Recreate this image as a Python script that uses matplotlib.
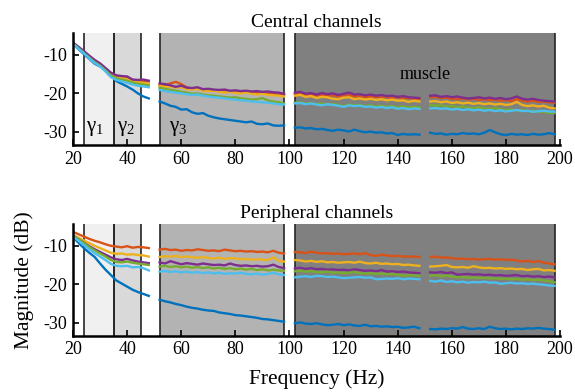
"""Central vs peripheral channel spectra with frequency band shading."""
import matplotlib
matplotlib.use('Agg')
import matplotlib.pyplot as plt
import numpy as np

plt.rcParams['font.family'] = ['Liberation Serif', 'DejaVu Serif']
plt.rcParams['axes.unicode_minus'] = False
plt.rcParams['mathtext.fontset'] = 'custom'
plt.rcParams['mathtext.rm'] = 'Liberation Serif'

# frequency grid, split where line noise harmonics were removed (50, 100, 150 Hz)
seg_freqs = [np.arange(20, 49, 2), np.arange(52, 99, 2),
             np.arange(102, 149, 2), np.arange(152, 199, 2)]

# band edges (Hz)
bands = [(24, 35, '0.94'), (35, 45, '0.85'), (52, 98, '0.70'), (102, 198, '0.50')]
band_labels = [(28, r'$\mathregular{γ_1}$'), (39.5, r'$\mathregular{γ_2}$'), (59, r'$\mathregular{γ_3}$')]

series_names = ['ch1', 'ch2', 'ch3', 'ch4', 'ch5', 'ch6']
colors = ['#0072BD', '#D95319', '#EDB120', '#7E2F8E', '#77AC30', '#4DBEEE']

# ---- central channels (dB) ----
central_ch1 = [-7.2, -8.5, -9.8, -11.0, -12.3, -13.0, -13.8, -15.3, -16.8, -17.5, -18.2, -19.0, -20.0, -20.8, -21.3,
               -22.1, -22.6, -23.2, -23.5, -24.2, -24.1, -24.9, -25.3, -25.1, -25.8, -26.2, -26.5, -26.7, -26.9, -27.1, -27.3, -27.5, -27.3, -27.9, -28.0, -27.8, -28.3, -28.4, -28.3,
               -28.9, -28.8, -29.1, -29.0, -29.3, -29.2, -29.5, -29.7, -29.4, -29.6, -29.9, -29.4, -29.8, -30.1, -29.9, -30.2, -30.1, -30.4, -30.3, -30.8, -30.5, -30.7, -30.6, -30.7,
               -30.2, -30.5, -30.4, -30.7, -30.5, -30.6, -30.3, -30.5, -30.4, -30.6, -30.2, -29.5, -30.1, -30.6, -30.8, -30.5, -30.7, -30.6, -30.8, -30.5, -30.7, -30.6, -30.3, -30.6]
central_ch2 = [-7.0, -8.1, -9.3, -10.5, -11.6, -12.5, -13.6, -14.9, -15.6, -15.7, -15.9, -16.5, -16.8, -16.9, -16.9,
               -17.8, -17.9, -17.4, -17.0, -17.6, -18.4, -18.8, -18.6, -19.0, -19.1, -19.2, -19.4, -19.2, -19.5, -19.6, -19.5, -19.8, -19.6, -19.9, -19.8, -20.0, -20.1, -20.3, -20.4,
               -20.1, -20.0, -20.4, -20.3, -20.6, -20.4, -20.7, -20.5, -20.8, -20.6, -20.5, -20.8, -20.7, -21.0, -20.8, -20.9, -21.1, -20.9, -21.2, -21.0, -21.3, -21.2, -21.4, -21.4,
               -21.0, -20.9, -21.2, -21.1, -21.4, -21.5, -21.3, -21.6, -21.4, -21.7, -21.5, -21.8, -21.6, -21.9, -21.7, -22.0, -21.5, -21.9, -22.1, -21.9, -22.2, -22.1, -22.3, -22.4]
central_ch3 = [-7.0, -8.2, -9.4, -10.6, -11.8, -12.7, -13.8, -15.1, -15.8, -16.0, -16.3, -16.9, -17.1, -17.3, -17.5,
               -18.1, -18.3, -18.2, -18.5, -18.4, -18.9, -19.0, -18.8, -19.3, -19.4, -19.3, -19.6, -19.8, -19.6, -19.9, -20.0, -19.8, -20.1, -20.3, -20.1, -20.4, -20.5, -20.6, -20.8,
               -20.6, -20.4, -20.9, -20.7, -21.2, -20.9, -21.0, -21.4, -21.5, -21.1, -21.0, -21.5, -21.3, -21.6, -21.4, -21.7, -21.5, -21.8, -21.6, -21.9, -21.8, -22.2, -21.9, -22.1,
               -22.1, -22.0, -22.3, -22.1, -22.5, -22.3, -22.6, -22.4, -22.7, -22.5, -22.8, -22.6, -22.9, -22.7, -23.0, -22.8, -22.2, -23.0, -23.3, -23.1, -23.4, -23.2, -23.7, -23.9]
central_ch4 = [-6.8, -7.9, -9.0, -10.2, -11.3, -12.2, -13.4, -14.6, -15.3, -15.5, -15.6, -16.4, -16.5, -16.4, -16.7,
               -17.4, -17.6, -17.9, -18.3, -18.0, -18.5, -18.6, -18.4, -18.9, -18.8, -19.0, -19.1, -19.0, -19.3, -19.2, -19.4, -19.3, -19.5, -19.4, -19.6, -19.5, -19.7, -19.8, -20.1,
               -19.8, -19.6, -20.1, -19.9, -20.3, -19.9, -20.2, -20.0, -20.4, -20.1, -19.8, -20.3, -20.2, -20.5, -20.3, -20.6, -20.4, -20.7, -20.6, -20.9, -20.7, -21.0, -21.1, -21.2,
               -20.6, -20.5, -20.9, -20.7, -21.0, -20.8, -21.1, -21.3, -21.2, -21.0, -21.3, -21.1, -21.4, -21.2, -21.5, -21.3, -20.8, -21.4, -21.6, -21.4, -21.7, -21.9, -22.0, -22.1]
central_ch5 = [-7.1, -8.3, -9.5, -10.7, -11.9, -12.8, -14.0, -15.4, -16.1, -16.4, -16.7, -17.2, -17.5, -17.7, -17.9,
               -18.5, -18.8, -19.1, -19.3, -19.6, -19.8, -20.1, -20.0, -20.3, -20.5, -20.6, -20.8, -20.9, -21.1, -21.0, -21.3, -21.4, -21.6, -21.5, -21.2, -21.8, -22.1, -22.3, -22.6,
               -22.4, -22.3, -22.6, -22.5, -22.8, -22.6, -22.9, -22.7, -23.0, -23.3, -22.9, -23.1, -23.0, -23.3, -23.1, -23.4, -23.2, -23.5, -23.3, -23.6, -23.4, -23.6, -23.5, -23.6,
               -23.0, -23.2, -23.1, -23.4, -23.3, -23.6, -23.4, -23.7, -23.8, -23.6, -23.9, -24.0, -23.8, -24.1, -24.3, -24.2, -24.4, -24.3, -24.6, -24.5, -24.7, -24.8, -25.0, -25.1]
central_ch6 = [-7.1, -8.4, -9.6, -10.9, -12.1, -13.0, -14.3, -15.8, -16.5, -16.9, -17.3, -17.7, -18.0, -18.2, -18.4,
               -19.1, -19.4, -19.6, -19.8, -20.0, -20.2, -20.4, -20.3, -20.6, -20.8, -21.0, -21.1, -21.3, -21.5, -21.6, -21.8, -21.9, -22.1, -22.2, -22.3, -22.4, -22.6, -22.8, -22.9,
               -22.6, -22.5, -22.8, -22.6, -22.9, -23.1, -22.8, -23.0, -23.2, -23.5, -23.1, -23.3, -23.2, -23.5, -23.4, -23.7, -23.5, -23.8, -23.6, -24.0, -23.8, -24.1, -23.9, -24.0,
               -23.9, -23.8, -24.0, -23.9, -24.2, -24.0, -24.3, -24.1, -24.4, -24.2, -24.5, -24.3, -24.6, -24.4, -24.7, -24.5, -24.3, -24.6, -24.5, -24.8, -24.6, -24.5, -24.7, -24.7]

# ---- peripheral channels (dB) ----
periph_ch1 = [-7.8, -9.2, -10.6, -11.8, -12.9, -14.6, -16.2, -17.6, -19.0, -19.8, -20.6, -21.4, -22.0, -22.5, -23.0,
              -24.0, -24.4, -24.7, -25.1, -25.4, -25.8, -26.1, -26.3, -26.6, -26.8, -26.9, -27.3, -27.5, -27.7, -28.0, -28.1, -28.3, -28.5, -28.7, -29.0, -29.1, -29.3, -29.5, -29.7,
              -30.1, -29.9, -30.2, -30.3, -30.1, -30.4, -30.6, -30.5, -30.3, -30.6, -30.4, -30.7, -30.8, -30.5, -30.9, -30.8, -31.0, -30.9, -31.1, -31.0, -31.3, -31.2, -31.0, -31.4,
              -31.6, -31.7, -31.5, -31.6, -31.4, -31.5, -31.1, -31.5, -31.6, -31.4, -31.6, -31.0, -31.4, -31.6, -31.5, -31.7, -31.5, -31.6, -31.4, -31.5, -31.3, -31.5, -31.6, -31.8]
periph_ch2 = [-6.4, -7.0, -7.6, -8.2, -8.7, -9.1, -9.6, -10.0, -10.2, -10.4, -10.1, -10.5, -10.3, -10.4, -10.6,
              -11.0, -10.8, -11.1, -11.0, -11.3, -11.1, -11.2, -10.9, -11.1, -11.3, -11.2, -11.4, -11.0, -11.2, -11.4, -11.3, -11.5, -11.4, -11.6, -11.5, -11.7, -11.3, -11.8, -12.0,
              -11.6, -11.7, -11.9, -11.5, -11.8, -12.0, -11.9, -12.1, -12.0, -12.2, -12.1, -12.0, -12.2, -11.9, -12.4, -12.6, -12.3, -12.5, -12.7, -12.6, -12.8, -12.8, -12.8, -12.9,
              -12.9, -12.8, -13.1, -13.0, -13.2, -13.4, -13.3, -13.5, -13.4, -13.6, -13.5, -13.4, -13.6, -13.5, -13.7, -13.6, -13.8, -14.1, -13.9, -14.2, -14.0, -14.4, -14.6, -14.8]
periph_ch3 = [-7.2, -7.9, -8.6, -9.3, -10.0, -10.6, -11.2, -11.8, -12.1, -12.0, -12.3, -12.2, -12.4, -12.5, -12.8,
              -12.9, -12.7, -12.8, -12.6, -12.9, -12.8, -13.0, -13.1, -12.9, -13.2, -13.3, -13.1, -13.4, -13.2, -13.3, -13.5, -13.4, -13.6, -13.5, -13.6, -13.7, -13.0, -13.9, -14.1,
              -13.7, -13.8, -14.1, -13.9, -14.2, -14.0, -14.3, -14.2, -14.4, -14.3, -14.2, -14.4, -14.1, -14.5, -14.6, -14.4, -14.7, -14.6, -14.8, -14.7, -15.0, -14.9, -15.1, -15.2,
              -15.4, -15.3, -15.2, -15.0, -15.5, -15.6, -15.5, -15.7, -15.3, -15.6, -15.8, -15.7, -15.9, -15.8, -16.0, -15.9, -16.1, -16.0, -16.3, -16.1, -16.0, -16.4, -16.3, -16.5]
periph_ch4 = [-7.4, -8.3, -9.2, -10.1, -10.9, -11.6, -12.3, -13.0, -13.5, -13.7, -13.4, -13.8, -14.1, -14.3, -14.5,
              -14.3, -14.6, -14.0, -14.4, -14.8, -14.5, -14.7, -14.9, -14.6, -14.8, -15.0, -14.9, -15.1, -14.6, -15.0, -15.2, -15.1, -15.3, -15.2, -15.4, -15.3, -14.9, -15.5, -15.8,
              -15.9, -15.7, -16.0, -15.8, -16.1, -16.0, -16.2, -16.1, -16.3, -16.2, -16.4, -16.1, -16.3, -16.5, -16.4, -16.6, -16.3, -16.7, -16.6, -16.8, -16.7, -16.9, -17.0, -17.1,
              -16.9, -17.0, -16.8, -17.1, -16.9, -17.5, -17.4, -17.3, -17.5, -17.4, -17.6, -17.5, -17.7, -17.6, -17.8, -17.7, -17.6, -17.9, -17.8, -18.0, -17.9, -18.1, -18.0, -18.2]
periph_ch5 = [-7.3, -8.3, -9.3, -10.3, -11.2, -12.0, -12.8, -13.7, -14.2, -14.3, -14.1, -14.4, -14.6, -14.8, -15.0,
              -15.4, -15.2, -15.5, -15.3, -15.6, -15.4, -15.7, -15.5, -15.8, -15.6, -15.9, -15.7, -16.0, -15.8, -16.1, -15.9, -16.2, -16.0, -16.3, -16.1, -16.4, -16.2, -16.4, -16.5,
              -16.6, -16.5, -16.7, -16.6, -16.8, -16.9, -16.7, -17.0, -16.9, -17.1, -17.0, -16.8, -17.1, -17.2, -17.1, -17.3, -17.2, -17.4, -17.3, -17.5, -17.8, -17.6, -17.7, -17.8,
              -17.8, -17.6, -17.9, -17.7, -18.0, -18.2, -18.1, -18.3, -18.2, -18.4, -18.3, -18.5, -18.4, -18.6, -18.5, -18.7, -18.6, -18.8, -18.7, -18.9, -18.8, -19.0, -19.2, -19.5]
periph_ch6 = [-7.6, -8.7, -9.8, -10.9, -11.9, -12.8, -13.7, -14.7, -15.2, -15.3, -15.2, -15.6, -15.5, -15.8, -16.4,
              -16.7, -16.5, -16.8, -16.6, -16.9, -16.7, -17.0, -16.8, -17.1, -16.9, -17.2, -17.0, -17.3, -17.1, -17.2, -17.0, -17.3, -17.4, -17.2, -17.5, -17.3, -17.0, -17.4, -17.6,
              -18.2, -18.0, -17.9, -18.1, -17.8, -17.9, -18.1, -18.0, -18.2, -18.4, -18.3, -18.2, -18.1, -18.3, -18.2, -18.7, -18.6, -18.5, -18.6, -18.4, -18.7, -18.5, -18.6, -18.7,
              -19.1, -19.3, -19.0, -19.4, -19.2, -19.5, -19.3, -19.6, -19.4, -19.5, -19.3, -19.6, -19.5, -19.9, -19.7, -19.6, -19.8, -19.7, -19.9, -19.8, -20.0, -20.1, -20.3, -20.4]

central = [central_ch1, central_ch2, central_ch3, central_ch4, central_ch5, central_ch6]
peripheral = [periph_ch1, periph_ch2, periph_ch3, periph_ch4, periph_ch5, periph_ch6]

fig = plt.figure(figsize=(5.75, 3.92), dpi=100)
ax1 = fig.add_axes([0.127, 0.630, 0.847, 0.286])
ax2 = fig.add_axes([0.127, 0.143, 0.847, 0.286])

for ax, data, title in [(ax1, central, 'Central channels'), (ax2, peripheral, 'Peripheral channels')]:
    for lo, hi, shade in bands:
        ax.axvspan(lo, hi, color=shade, lw=0, zorder=0)
        ax.axvline(lo, color='0.15', lw=1.2, zorder=1)
        ax.axvline(hi, color='0.15', lw=1.2, zorder=1)
    for vals, c in zip(data, colors):
        start = 0
        for f in seg_freqs:
            ax.plot(f, vals[start:start + len(f)], color=c, lw=1.7, zorder=3)
            start += len(f)
    ax.set_xlim(20, 200)
    ax.set_ylim(-33.4, -4.3)
    ax.set_xticks(range(20, 201, 20))
    ax.set_yticks([-30, -20, -10])
    ax.tick_params(direction='in', length=4, width=1.2, labelsize=13, pad=4)
    for s in ['top', 'right']:
        ax.spines[s].set_visible(False)
    for s in ['left', 'bottom']:
        ax.spines[s].set_linewidth(1.8)
        ax.spines[s].set_zorder(4)
    ax.set_title(title, fontsize=14, pad=4)

for x, lab in band_labels:
    ax1.text(x, -29.2, lab, fontsize=15, ha='center', va='center', zorder=5)
ax1.text(150, -15.2, 'muscle', fontsize=13, ha='center', va='center', zorder=5)

ax2.set_xlabel('Frequency (Hz)', fontsize=15.5, labelpad=8)
ax2.set_ylabel('Magnitude (dB)', fontsize=15.5, labelpad=7)

plt.savefig('out.png', dpi=100)
